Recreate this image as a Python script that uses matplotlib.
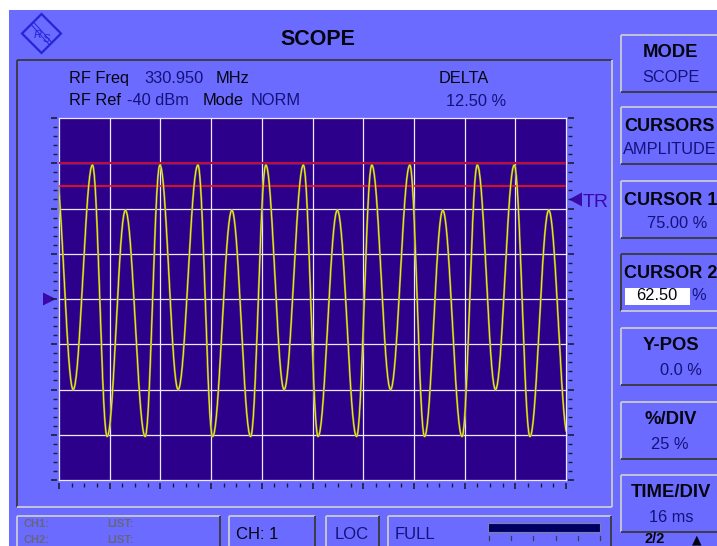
import numpy as np
import matplotlib.pyplot as plt
from matplotlib.patches import Rectangle, Polygon

plt.rcParams["font.family"] = ["Liberation Sans", "DejaVu Sans"]

W, H = 717, 546

# turning points of the trace: time in divisions, level in %
turn_t = [-0.08, 0.28, 0.66, 0.95, 1.31, 1.70, 1.99, 2.35, 2.74, 3.03,
          3.41, 3.78, 4.08, 4.44, 4.82, 5.11, 5.49, 5.87, 6.17, 6.54,
          6.92, 7.21, 7.57, 7.95, 8.25, 8.61, 8.98, 9.29, 9.66, 10.04]
turn_lvl = [74, -50, 74, -76, 49, -76, 74, -50, 74, -76,
            49, -76, 74, -50, 74, -76, 49, -76, 74, -50,
            74, -76, 49, -76, 74, -50, 74, -76, 49, -76]

cursor1 = 75.0
cursor2 = 62.5
trigger_lvl = 55.0
y_pos = 0.0

x_divs = np.arange(0, 11)            # 10 divisions, 16 ms each
y_divs = np.arange(-100, 101, 25)    # 25 %/div

softkey_titles = ["MODE", "CURSORS", "CURSOR 1", "CURSOR 2", "Y-POS", "%/DIV", "TIME/DIV"]
softkey_values = ["SCOPE", "AMPLITUDE", "75.00 %", "62.50", "0.0 %", "25 %", "16 ms"]

SCREEN = "#6b6bff"
GRID_BG = "#2d008c"
GRIDC = "#ebe8ff"
NAVY = "#12127a"
BLACK = "#050510"
MARK = "#3a0aa8"
LIGHT = "#c4c4d4"
DARK = "#3c3c48"

fig = plt.figure(figsize=(W / 100, H / 100), dpi=100, facecolor=SCREEN)

# whole screen in pixel coordinates
scr = fig.add_axes([0, 0, 1, 1])
scr.set_xlim(0, W)
scr.set_ylim(H, 0)
scr.axis("off")
scr.add_patch(Rectangle((0, 0), W, 10, color="white", lw=0))
scr.add_patch(Rectangle((0, 0), 9, H, color="white", lw=0))


def bevel(x0, y0, x1, y1, pressed=False):
    top, bot = (DARK, LIGHT) if pressed else (LIGHT, DARK)
    scr.plot([x0, x1], [y0, y0], color=top, lw=1.4, solid_capstyle="butt")
    scr.plot([x0, x0], [y0, y1], color=top, lw=1.4, solid_capstyle="butt")
    scr.plot([x0, x1], [y1, y1], color=bot, lw=1.4, solid_capstyle="butt")
    scr.plot([x1, x1], [y0, y1], color=bot, lw=1.4, solid_capstyle="butt")


def txt(x, y, s, size=11, color=BLACK, weight="normal", ha="left"):
    scr.text(x, y, s, fontsize=size, color=color, fontweight=weight,
             ha=ha, va="baseline")


# logo
cx, cy, r = 41.5, 33.5, 19.5
scr.add_patch(Polygon([(cx, cy - r), (cx + r, cy), (cx, cy + r), (cx - r, cy)],
                      closed=True, fill=False, ec="#2424d8", lw=1.6))
for off in (-1.2, 1.2):
    scr.plot([cx - 9 + off, cx + 9 + off], [cy - 10 - off, cy + 10 - off], color="#2424d8", lw=0.7)
scr.text(cx - 4, cy + 1, "R", fontsize=8, color="#2424d8", style="italic", ha="center", va="center")
scr.text(cx + 5, cy + 6, "S", fontsize=8, color="#2424d8", style="italic", ha="center", va="center")

txt(317.5, 45, "SCOPE", size=15.5, weight="bold", ha="center")

# main panel
bevel(17, 60, 612, 507, pressed=True)

txt(69, 83, "RF Freq", size=11.8)
txt(144, 83, "330.950", size=11.8, color=NAVY)
txt(216, 83, "MHz", size=11.8)
txt(69, 105, "RF Ref", size=11.8)
txt(127, 105, "-40 dBm", size=11.8, color=NAVY)
txt(203, 105, "Mode", size=11.8)
txt(251, 105, "NORM", size=11.8, color=NAVY)
txt(464, 83, "DELTA", size=11.8, ha="center")
txt(476, 106, "12.50 %", size=11.8, color=NAVY, ha="center")


def lvl_px(v):
    return 480 - (v + 100) / 200 * 362


# y-position marker and trigger marker
yp = lvl_px(y_pos)
scr.add_patch(Polygon([(43, yp - 6.5), (56, yp), (43, yp + 6.5)], color=MARK, lw=0))
tp = lvl_px(trigger_lvl)
scr.add_patch(Polygon([(582, tp - 7), (569, tp), (582, tp + 7)], color=MARK, lw=0))
txt(583, tp + 8, "TR", size=14, color=MARK)

# softkeys
key_top = [35, 107, 181, 254, 328, 402, 475]
for i, (title, val) in enumerate(zip(softkey_titles, softkey_values)):
    y0 = key_top[i]
    bevel(621, y0, W + 5, y0 + 57, pressed=(i == 3))
    if i in (1, 2, 3):
        txt(624, y0 + 24, title, size=13, weight="bold")
    else:
        txt(671, y0 + 22, title, size=13.3, weight="bold", ha="center")
    if i == 1:
        txt(623, y0 + 47, val, size=11.8, color=NAVY)
    elif i == 3:
        scr.add_patch(Rectangle((625, y0 + 34), 65, 17, color="white", lw=0))
        txt(657, y0 + 46, val, size=11.8, color=BLACK, ha="center")
        txt(699, y0 + 46, "%", size=11.8, color=NAVY, ha="center")
    else:
        cxv = {0: 671, 2: 677, 4: 681, 5: 670, 6: 671}[i]
        txt(cxv, y0 + 47, val, size=11.8, color=NAVY, ha="center")
txt(655, 543, "2/2", size=10.5, weight="bold", ha="center")
scr.text(697, 543, "\u25b2", fontsize=9, color=BLACK, ha="center", va="baseline",
         family=["DejaVu Sans"])

# status line
bevel(17, 516, 220, H + 5)
for y, ch in ((527, "CH1:"), (543, "CH2:")):
    txt(24, y, ch, size=8, color="#66667a", weight="bold")
    txt(107, y, "LIST:", size=8, color="#66667a", weight="bold")
bevel(229, 516, 315, H + 5)
txt(236, 539, "CH: 1", size=12)
bevel(326, 516, 379, H + 5)
txt(352, 539, "LOC", size=12, color=NAVY, ha="center")
bevel(388, 516, 611, H + 5)
txt(395, 539, "FULL", size=12, color=NAVY)
scr.add_patch(Rectangle((488, 523), 112, 9, fc="#000062", ec="#8080a0", lw=0.8))
for x in np.linspace(489, 600, 6):
    scr.plot([x, x], [536, 539.5], color=DARK, lw=0.9)

# scope graticule
ax = fig.add_axes([59 / W, 1 - 480 / H, 507 / W, 362 / H])
ax.set_facecolor(GRID_BG)
ax.set_xlim(0, 10)
ax.set_ylim(-100, 100)
for side, sp in ax.spines.items():
    sp.set_visible(False)
ax.spines["left"].set_position(("outward", 1.5))
ax.spines["right"].set_position(("outward", 1.5))
ax.spines["bottom"].set_position(("outward", 2.2))
ax.yaxis.set_ticks_position("both")
ax.xaxis.set_ticks_position("bottom")
ax.set_xticks(x_divs)
ax.set_xticks(np.arange(0, 10.01, 0.25), minor=True)
ax.set_yticks(y_divs)
ax.set_yticks(np.arange(-100, 101, 5), minor=True)
ax.tick_params(which="major", length=4.5, width=1.2, color="#1c1c3c",
               labelleft=False, labelbottom=False, labelright=False)
ax.tick_params(which="minor", length=2.6, width=1.0, color="#1c1c3c")

for v in x_divs:
    ax.axvline(v, color=GRIDC, lw=0.9, clip_on=False, zorder=1)
for v in y_divs:
    ax.axhline(v, color=GRIDC, lw=0.9, clip_on=False, zorder=1)

ax.axhline(cursor1, color="#b8103c", lw=1.5, zorder=2)
ax.axhline(cursor2, color="#ff1010", lw=1.2, zorder=2)

# trace: smooth half-cosine between the read turning points
tt, vv = [], []
for t0, t1, v0, v1 in zip(turn_t[:-1], turn_t[1:], turn_lvl[:-1], turn_lvl[1:]):
    s = np.linspace(0, 1, 40)
    tt.append(t0 + s * (t1 - t0))
    vv.append(v0 + (v1 - v0) * (1 - np.cos(np.pi * s)) / 2)
tt = np.concatenate(tt)
vv = np.concatenate(vv)
ax.plot(tt, vv, color="#938c3c", lw=1.5, zorder=3)
ax.plot(tt, vv, color="#ffff10", lw=0.6, zorder=4)

fig.savefig("out.png", dpi=100, facecolor=SCREEN)
